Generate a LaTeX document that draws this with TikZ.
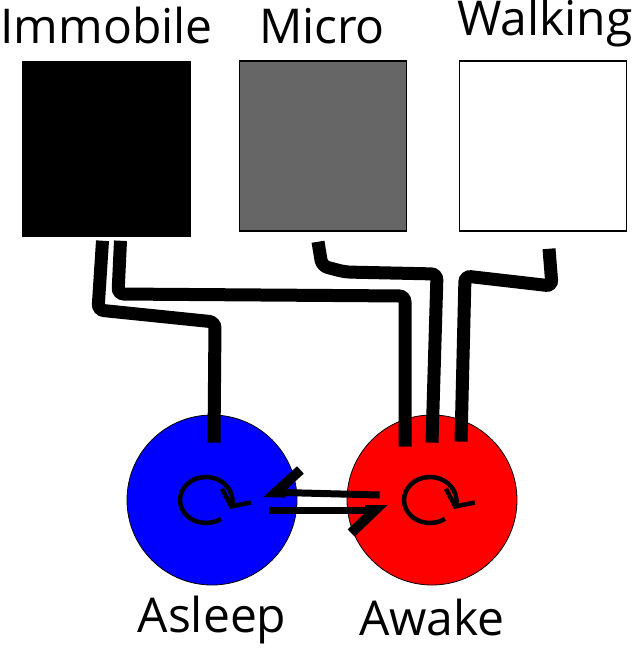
\documentclass[tikz,border=0pt]{standalone}
\usepackage{fontspec}
\setmainfont{Open Sans}
\usetikzlibrary{arrows.meta,calc}
\definecolor{microgray}{HTML}{666666}
\begin{document}
\begin{tikzpicture}[x=1pt, y=-1pt,
	box/.style={draw=black, line width=1.5pt, minimum width=167pt, minimum height=170pt, inner sep=0pt},
	state/.style={circle, draw=black, line width=0.8pt, minimum size=170pt, inner sep=0pt},
	lbl/.style={anchor=base, inner sep=0pt, font=\fontsize{48}{58}\selectfont},
	pen/.style={line width=13pt, rounded corners=6pt},
	loopy/.style={line width=4.5pt, -{Straight Barb[length=12pt, width=32pt]}},
	flow/.style={line width=7pt, -{Straight Barb[harpoon, swap, length=24pt, width=46pt, line width=10pt]}}]
	\useasboundingbox (0,0) rectangle (632,648);
	\node[box, fill=black, minimum height=174pt] (immobile) at (106.5,149) {};
	\node[box, fill=microgray] (micro) at (323,146) {};
	\node[box, fill=white] (walking) at (543,146) {};
	\node[lbl] (immobilelbl) at (106.5,43) {Immobile};
	\node[lbl] (microlbl) at (322,43) {Micro};
	\node[lbl] (walkinglbl) at (545,35) {Walking};
	\node[state, fill=blue] (asleep) at (212,500) {};
	\node[state, fill=red] (awake) at (432,500) {};
	\node[lbl] (asleeplbl) at (212,632) {Asleep};
	\node[lbl] (awakelbl) at (432,635) {Awake};
	\draw[pen] ($(immobile.south)+(-4,4)$) -- (98,310) -- (215,322) -- ($(asleep.north)+(2,28)$);
	\draw[pen] ($(immobile.south)+(14,4)$) -- (118,294) -- (405,296) -- ($(awake.north)+(-27,32)$);
	\draw[pen] ($(micro.south)+(-5,10)$) -- (322,266) -- (345,272) -- (437,274) -- ($(awake.north)+(0,28)$);
	\draw[pen] ($(walking.south)+(6,17)$) -- (552,286) -- (465,276) -- ($(awake.north)+(29,27)$);
	\draw[flow] ($(awake.west)+(33,-5)$) -- ($(asleep.east)+(-34,-8)$);
	\draw[flow] ($(asleep.east)+(-28,10)$) -- ($(awake.west)+(41,10)$);
	\draw[loopy] ($(asleep.center)+(-6,0)$) ++(55:26 and 23) arc[start angle=55, end angle=383, x radius=26, y radius=23];
	\draw[loopy] ($(awake.center)+(-2,0)$) ++(55:26 and 23) arc[start angle=55, end angle=383, x radius=26, y radius=23];
\end{tikzpicture}
\end{document}
